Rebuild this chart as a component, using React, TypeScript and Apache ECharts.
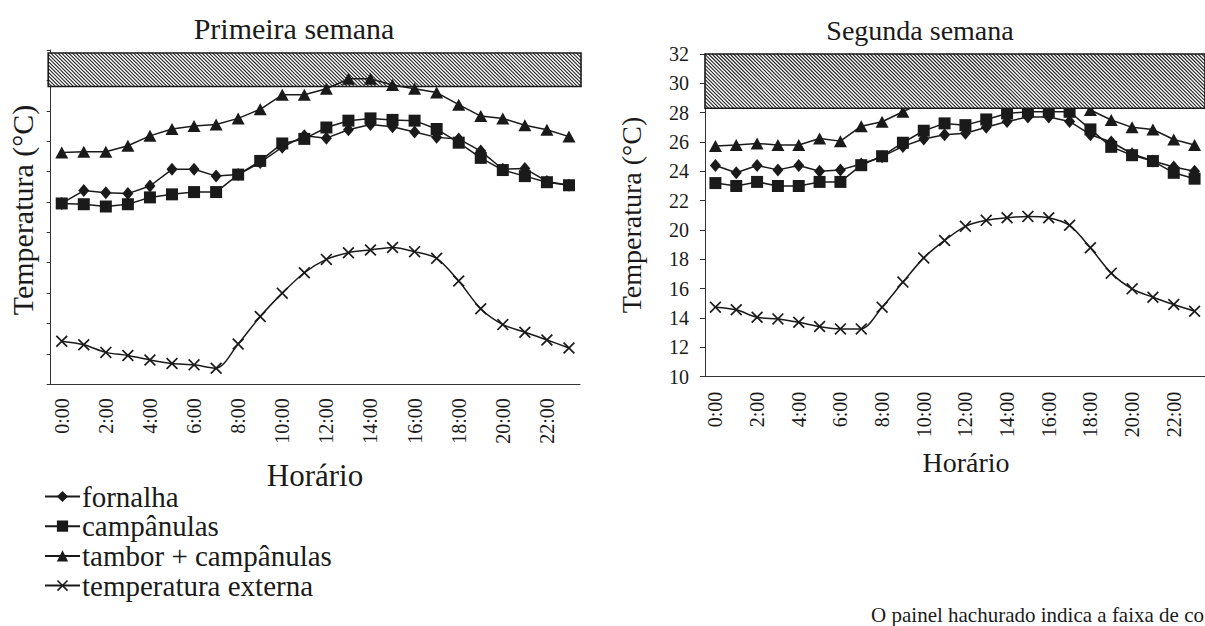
import React, { useEffect, useRef } from 'react';
import * as echarts from 'echarts';

const hours = ['0:00','1:00','2:00','3:00','4:00','5:00','6:00','7:00','8:00','9:00','10:00','11:00','12:00','13:00','14:00','15:00','16:00','17:00','18:00','19:00','20:00','21:00','22:00','23:00'];

const seriesNames = ['fornalha', 'campânulas', 'tambor + campânulas', 'temperatura externa'];

// Primeira semana
const fornalha1 = [21.9, 22.75, 22.6, 22.55, 23.05, 24.15, 24.15, 23.7, 23.8, 24.6, 25.6, 26.35, 26.2, 26.75, 27.1, 26.95, 26.6, 26.25, 26.15, 25.35, 24.15, 24.2, 23.35, 23.1];
const campanulas1 = [21.9, 21.85, 21.7, 21.85, 22.3, 22.5, 22.65, 22.65, 23.8, 24.7, 25.85, 26.15, 26.9, 27.35, 27.5, 27.4, 27.35, 26.8, 25.9, 24.9, 24.1, 23.7, 23.3, 23.1];
const tambor1 = [25.25, 25.3, 25.3, 25.7, 26.35, 26.8, 27.0, 27.1, 27.5, 28.1, 29.05, 29.05, 29.45, 30.1, 30.1, 29.7, 29.45, 29.2, 28.4, 27.65, 27.5, 27.05, 26.75, 26.3];
const externa1 = [12.83, 12.6, 12.1, 11.9, 11.6, 11.37, 11.28, 11.06, 12.65, 14.46, 16.0, 17.34, 18.22, 18.66, 18.84, 19.0, 18.73, 18.29, 16.8, 14.97, 13.93, 13.43, 12.92, 12.39];

// Segunda semana
const fornalha2 = [24.4, 23.9, 24.4, 24.1, 24.4, 24.0, 24.1, 24.5, 25.0, 25.7, 26.2, 26.5, 26.6, 27.0, 27.4, 27.7, 27.7, 27.4, 26.5, 26.0, 25.2, 24.7, 24.3, 24.0];
const campanulas2 = [23.2, 23.0, 23.28, 23.0, 23.0, 23.28, 23.28, 24.42, 25.03, 25.95, 26.77, 27.27, 27.15, 27.54, 27.95, 28.06, 28.06, 28.06, 26.86, 25.67, 25.1, 24.7, 23.9, 23.5];
const tambor2 = [25.72, 25.79, 25.9, 25.79, 25.79, 26.24, 26.06, 27.08, 27.38, 28.06, 28.75, 28.95, 29.1, 29.3, 29.5, 29.5, 29.3, 28.95, 28.18, 27.5, 27.0, 26.85, 26.17, 25.79];
const externa2 = [14.74, 14.56, 14.05, 13.94, 13.71, 13.42, 13.26, 13.26, 14.74, 16.45, 18.1, 19.29, 20.25, 20.66, 20.84, 20.93, 20.84, 20.32, 18.79, 17.06, 15.99, 15.42, 14.92, 14.46];

// hatched comfort band [low, high] per panel
const band1 = [29.6, 31.8];
const band2 = [28.3, 32];

const yMin = 10;
const yMax = 32;
const yStep = 2;

const FONT = 'Liberation Serif, DejaVu Serif, serif';
const INK = '#1a1a1a';
const xPath = 'path://M1,0L5,4L9,0L10,1L6,5L10,9L9,10L5,6L1,10L0,9L4,5L0,1Z';
const symbols = ['diamond', 'rect', 'triangle', xPath];
const symbolSizes = [[11, 13], 12, [13, 12], 12];

function makeHatch(padL: number, padR: number) {
  return (params: any, api: any) => {
    const cs = params.coordSys;
    const top = api.coord([0, api.value(2)])[1];
    const bottom = api.coord([0, api.value(1)])[1];
    const x1 = cs.x - padL;
    const x2 = cs.x + cs.width + padR;
    const y1 = top;
    const y2 = bottom;
    const step = 3.6;
    const children: any[] = [
      { type: 'rect', shape: { x: x1, y: y1, width: x2 - x1, height: y2 - y1 }, style: { fill: '#fff' } },
    ];
    for (let c = x1 - y2; c <= x2 - y1; c += step) {
      const sx = Math.max(x1, c + y1);
      const ex = Math.min(x2, c + y2);
      if (ex <= sx) continue;
      children.push({
        type: 'line',
        shape: { x1: sx, y1: sx - c, x2: ex, y2: ex - c },
        style: { stroke: '#222', lineWidth: 1.1 },
      });
    }
    children.push({
      type: 'rect',
      shape: { x: x1, y: y1, width: x2 - x1, height: y2 - y1 },
      style: { fill: 'none', stroke: INK, lineWidth: 1.6 },
    });
    return { type: 'group', children };
  };
}

function txt(text: string, x: number, y: number, size: number, align: string, rotation = 0) {
  return {
    type: 'text',
    x,
    y,
    rotation,
    style: { text, fontFamily: FONT, fontSize: size, fill: INK, align, verticalAlign: 'middle' },
  };
}

export default function App() {
  const ref = useRef<HTMLDivElement>(null);
  useEffect(() => {
    if (!ref.current) return;
    const chart = echarts.init(ref.current, undefined, { renderer: 'svg' });
    const panels = [
      [fornalha1, campanulas1, tambor1, externa1],
      [fornalha2, campanulas2, tambor2, externa2],
    ];
    const lineSeries: any[] = [];
    panels.forEach((p, gi) => {
      p.forEach((data, si) => {
        lineSeries.push({
          type: 'line',
          name: seriesNames[si],
          xAxisIndex: gi,
          yAxisIndex: gi,
          data,
          symbol: symbols[si],
          symbolSize: symbolSizes[si],
          smooth: si === 3 ? 0.3 : false,
          z: 3,
          lineStyle: { color: INK, width: 1.5 },
          itemStyle: { color: INK },
        });
      });
    });
    const xAxisBase = (gi: number) => ({
      type: 'category',
      gridIndex: gi,
      data: hours,
      boundaryGap: true,
      axisLine: { lineStyle: { color: '#333', width: 1 } },
      axisTick: { interval: 0, length: 5, lineStyle: { color: '#333' } },
      axisLabel: {
        interval: 1,
        rotate: 90,
        margin: gi === 0 ? 14 : 15,
        fontFamily: FONT,
        fontSize: 20,
        color: INK,
      },
    });
    const yAxisBase = (gi: number) => ({
      type: 'value',
      gridIndex: gi,
      min: yMin,
      max: yMax,
      interval: yStep,
      splitLine: { show: false },
      axisLine: { show: true, lineStyle: { color: '#333', width: 1 } },
      axisTick: { show: true, length: gi === 0 ? 4 : 5, lineStyle: { color: '#333' } },
      axisLabel: {
        show: gi === 1,
        margin: 16,
        fontFamily: FONT,
        fontSize: 20,
        color: INK,
      },
    });
    chart.setOption({
      animation: false,
      backgroundColor: '#fff',
      grid: [
        { left: 50.7, top: 50, width: 529.3, height: 334.3 },
        { left: 705, top: 54, width: 509, height: 322.7 },
      ],
      xAxis: [xAxisBase(0), xAxisBase(1)],
      yAxis: [yAxisBase(0), yAxisBase(1)],
      legend: {
        data: seriesNames,
        orient: 'vertical',
        left: 39,
        top: 477,
        itemWidth: 35,
        itemHeight: 14,
        itemGap: 0.7,
        textStyle: { fontFamily: FONT, fontSize: 29, color: INK, padding: [0, 0, 0, -3] },
      },
      graphic: [
        txt('Primeira semana', 294, 28, 30, 'center'),
        txt('Segunda semana', 920, 30, 28, 'center'),
        txt('Temperatura (°C)', 22, 210, 30, 'center', Math.PI / 2),
        txt('Temperatura (°C)', 631, 215, 28, 'center', Math.PI / 2),
        txt('Horário', 315, 475, 31, 'center'),
        txt('Horário', 966, 462, 28, 'center'),
        txt('O painel hachurado indica a faixa de co', 1204, 615, 21, 'right'),
      ],
      series: [
        ...lineSeries,
        {
          type: 'custom',
          xAxisIndex: 0,
          yAxisIndex: 0,
          silent: true,
          z: 1,
          encode: { x: 0, y: [1, 2] },
          data: [[0, band1[0], band1[1]]],
          renderItem: makeHatch(2.5, 1),
        },
        {
          type: 'custom',
          xAxisIndex: 1,
          yAxisIndex: 1,
          silent: true,
          z: 6,
          encode: { x: 0, y: [1, 2] },
          data: [[0, band2[0], band2[1]]],
          renderItem: makeHatch(0, 0),
        },
      ],
    });
    return () => chart.dispose();
  }, []);
  return (
    <div
      ref={ref}
      style={{ position: 'fixed', left: 0, top: 0, width: 1205, height: 626, background: '#fff' }}
    />
  );
}
